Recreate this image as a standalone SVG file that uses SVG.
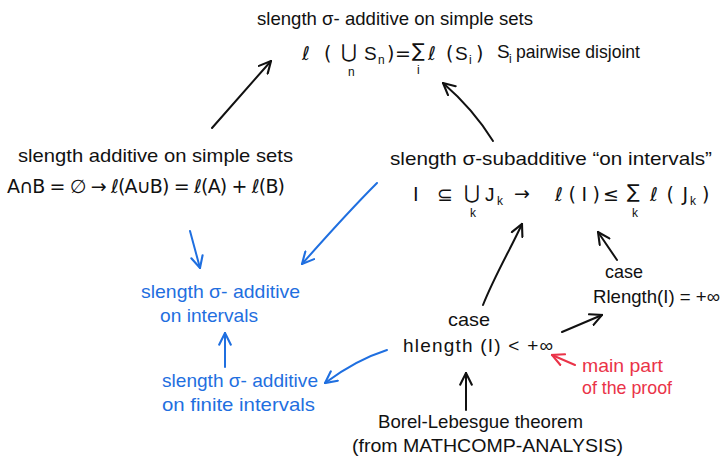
<svg xmlns="http://www.w3.org/2000/svg" width="725" height="462" viewBox="0 0 725 462">
<style>
text{font-family:"Liberation Sans","DejaVu Sans",sans-serif;fill:#111;font-size:19px}
.m{font-family:"DejaVu Sans","Liberation Sans",sans-serif}
.s{font-size:12px}
.b{fill:#1f6fe0}
.r{fill:#ea3348}
.c{fill:none;stroke:#111;stroke-width:2;stroke-linecap:round}
.cb{fill:none;stroke:#1f6fe0;stroke-width:2;stroke-linecap:round}
.cr{fill:none;stroke:#ea3348;stroke-width:2;stroke-linecap:round}
</style>
<defs>
<marker id="ak" viewBox="0 0 12 12" refX="11" refY="6" markerWidth="14" markerHeight="14" markerUnits="userSpaceOnUse" orient="auto"><path d="M1,1 L11,6 L1,11" fill="none" stroke="#111" stroke-width="1.8" stroke-linecap="round"/></marker>
<marker id="ab" viewBox="0 0 12 12" refX="11" refY="6" markerWidth="14" markerHeight="14" markerUnits="userSpaceOnUse" orient="auto"><path d="M1,1 L11,6 L1,11" fill="none" stroke="#1f6fe0" stroke-width="1.8" stroke-linecap="round"/></marker>
<marker id="ar" viewBox="0 0 12 12" refX="11" refY="6" markerWidth="14" markerHeight="14" markerUnits="userSpaceOnUse" orient="auto"><path d="M1,1 L11,6 L1,11" fill="none" stroke="#ea3348" stroke-width="1.8" stroke-linecap="round"/></marker>
</defs>
<rect width="725" height="462" fill="#fff"/>

<g id="sigma-additive-simple">
<text x="257" y="25" textLength="276" lengthAdjust="spacingAndGlyphs">slength σ- additive on simple sets</text>
<text class="m" x="302" y="60" font-size="25">ℓ</text>
<text class="m" x="324" y="60" font-size="24">(</text>
<text class="m" x="341" y="58" font-size="26">⋃</text>
<text class="s" x="348" y="76">n</text>
<text x="364" y="60" font-size="21">S</text>
<text class="s" x="378" y="64">n</text>
<text class="m" x="387" y="60" font-size="24">)</text>
<text class="m" x="395" y="60" font-size="20">=</text>
<text class="m" x="412" y="57" font-size="22">∑</text>
<text class="s" x="417" y="74">i</text>
<text class="m" x="428" y="60" font-size="25">ℓ</text>
<text class="m" x="446" y="60" font-size="24">(</text>
<text x="455" y="60" font-size="21">S</text>
<text class="s" x="469" y="64">i</text>
<text class="m" x="476" y="60" font-size="24">)</text>
<text x="497" y="58" font-size="17">S</text>
<text class="s" x="509" y="63">i</text>
<text x="516" y="58" textLength="124" lengthAdjust="spacingAndGlyphs" font-size="17">pairwise disjoint</text>
</g>

<g id="additive-simple">
<text x="18" y="162" textLength="275" lengthAdjust="spacingAndGlyphs">slength additive on simple sets</text>
<text class="m" x="7" y="193" textLength="278" lengthAdjust="spacing" font-size="20">A∩B = ∅ → ℓ(A∪B) = ℓ(A) + ℓ(B)</text>
</g>

<g id="sigma-subadditive">
<text x="390" y="165" textLength="322" lengthAdjust="spacingAndGlyphs">slength σ-subadditive “on intervals”</text>
<text class="m" x="413" y="201" font-size="21" textLength="40" lengthAdjust="spacing">I ⊆</text>
<text class="m" x="464" y="199" font-size="25">⋃</text>
<text class="s" x="470" y="217">k</text>
<text x="485" y="201" font-size="21">J</text>
<text class="s" x="497" y="205">k</text>
<text class="m" x="514" y="200" font-size="21">→</text>
<text class="m" x="555" y="201" font-size="22" textLength="45" lengthAdjust="spacing">ℓ(I)</text>
<text class="m" x="603" y="201" font-size="20">≤</text>
<text class="m" x="627" y="198" font-size="22">∑</text>
<text class="s" x="632" y="217">k</text>
<text class="m" x="650" y="201" font-size="22" textLength="38" lengthAdjust="spacing">ℓ(J</text>
<text class="s" x="690" y="205">k</text>
<text class="m" x="702" y="201" font-size="22">)</text>
</g>

<g id="sigma-additive-intervals">
<text class="b" x="141" y="298" textLength="159" lengthAdjust="spacingAndGlyphs">slength σ- additive</text>
<text class="b" x="160" y="322" textLength="98" lengthAdjust="spacingAndGlyphs">on intervals</text>
</g>

<g id="sigma-additive-finite">
<text class="b" x="162" y="387" textLength="156" lengthAdjust="spacingAndGlyphs">slength σ- additive</text>
<text class="b" x="162" y="411" textLength="153" lengthAdjust="spacingAndGlyphs">on finite intervals</text>
</g>

<g id="case-finite">
<text x="448" y="326" textLength="42" lengthAdjust="spacingAndGlyphs">case</text>
<text x="403" y="352" font-size="20" textLength="150" lengthAdjust="spacing">hlength (I) &lt; +∞</text>
</g>

<g id="case-infinite">
<text x="605" y="278" textLength="38" lengthAdjust="spacingAndGlyphs">case</text>
<text x="593" y="303" textLength="127" lengthAdjust="spacingAndGlyphs">Rlength(I) = +∞</text>
</g>

<g id="main-part">
<text class="r" x="582" y="372" textLength="81" lengthAdjust="spacingAndGlyphs">main part</text>
<text class="r" x="582" y="394" textLength="90" lengthAdjust="spacingAndGlyphs">of the proof</text>
</g>

<g id="borel-lebesgue">
<text x="378" y="428" textLength="205" lengthAdjust="spacingAndGlyphs">Borel-Lebesgue theorem</text>
<text x="352" y="452" textLength="271" lengthAdjust="spacingAndGlyphs">(from MATHCOMP-ANALYSIS)</text>
</g>

<g id="connectors">
<path class="c" d="M212,128 L271,61" marker-end="url(#ak)"/>
<path class="c" d="M493,141 C480,120 465,102 443,83" marker-end="url(#ak)"/>
<path class="c" d="M483,305 C495,275 510,250 522,224" marker-end="url(#ak)"/>
<path class="c" d="M617,260 L598,232" marker-end="url(#ak)"/>
<path class="c" d="M562,332 L602,315" marker-end="url(#ak)"/>
<path class="c" d="M466,410 L466,373" marker-end="url(#ak)"/>
<path class="cr" d="M575,365 L552,355" marker-end="url(#ar)"/>
<path class="cb" d="M190,231 L200,268" marker-end="url(#ab)"/>
<path class="cb" d="M377,183 C350,210 325,238 302,264" marker-end="url(#ab)"/>
<path class="cb" d="M225,367 L225,333" marker-end="url(#ab)"/>
<path class="cb" d="M387,350 C365,357 345,368 325,383" marker-end="url(#ab)"/>
</g>
</svg>
